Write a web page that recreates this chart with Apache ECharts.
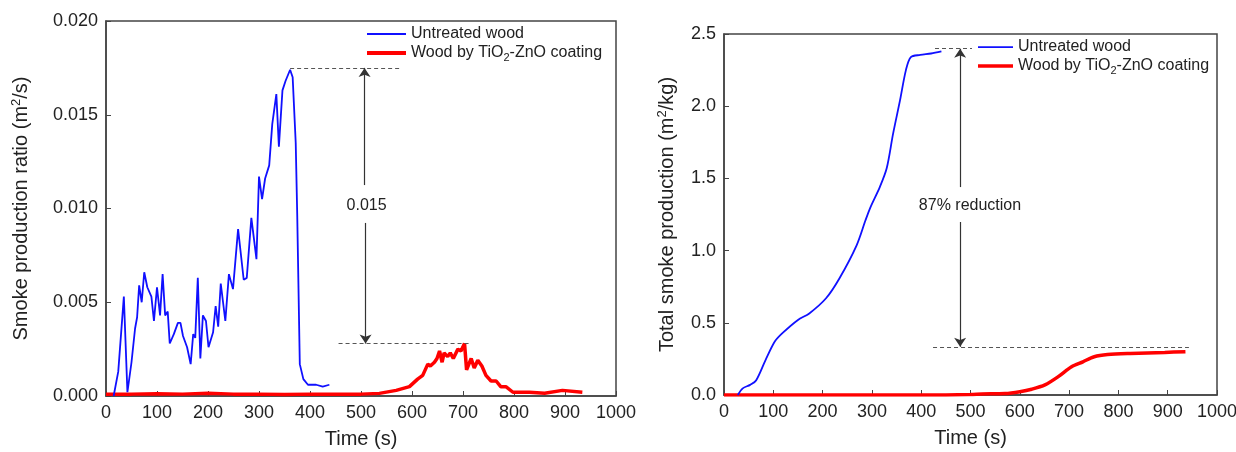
<!DOCTYPE html>
<html>
<head>
<meta charset="utf-8">
<script src="https://cdn.jsdelivr.net/npm/echarts/dist/echarts.min.js"></script>
<style>
  html, body { margin: 0; padding: 0; background: #fff; }
  #main { width: 1236px; height: 452px; }
</style>
</head>
<body>
<div id="main"></div>
<script>
// 数据：近似值
var xTicks = [0, 100, 200, 300, 400, 500, 600, 700, 800, 900, 1000];

// 左图：烟生成速率 (m2/s)
var blueRateT = [15, 24, 35, 42, 50, 57, 61, 65, 70, 75, 81, 89, 94, 100, 106, 111, 116, 121, 125, 133,
  141, 146, 151, 159, 166, 171, 175, 180, 185, 190, 196, 201, 210, 215, 220, 225, 234, 241, 249, 259,
  270, 276, 285, 295, 300, 306, 312, 320, 326, 329, 334, 339, 346, 352, 361, 366, 372, 375, 380, 387,
  396, 412, 425, 438];
var blueRateV = [0, 0.0013, 0.0053, 0.0002, 0.0018, 0.0036, 0.0042, 0.0059, 0.0050, 0.0066, 0.0058, 0.0053, 0.0040, 0.0058, 0.0043, 0.0065, 0.0043, 0.0045, 0.0028, 0.0033,
  0.0039, 0.0039, 0.0032, 0.0026, 0.0017, 0.0033, 0.0031, 0.0063, 0.0020, 0.0043, 0.0040, 0.0026, 0.0034, 0.0048, 0.0037, 0.0060, 0.0040, 0.0065, 0.0057, 0.0089,
  0.0062, 0.0063, 0.0095, 0.0073, 0.0117, 0.0105, 0.0116, 0.0123, 0.0145, 0.0144, 0.0161, 0.0133, 0.0163, 0.0168, 0.0174, 0.0170, 0.0135, 0.0096, 0.0017, 0.0009,
  0.0006, 0.0006, 0.0005, 0.0006];

var redRateT = [0, 50, 100, 150, 200, 250, 300, 350, 400, 450, 500, 536, 569, 595, 611, 621, 631, 636, 644, 649, 654,
  659, 663, 670, 675, 681, 690, 696, 703, 707, 716, 722, 729, 737, 745, 755, 765, 774, 784, 798, 830, 860, 895, 934];
var redRateV = [0.0001, 0.0001, 0.00012, 0.0001, 0.00015, 0.0001, 0.0001, 0.00008, 0.0001, 0.0001, 0.0001, 0.00014, 0.0003, 0.0005, 0.0009, 0.0011, 0.0017, 0.0016, 0.0018, 0.0020, 0.0024,
  0.0018, 0.0023, 0.0021, 0.0023, 0.0020, 0.0025, 0.0024, 0.0028, 0.0014, 0.0020, 0.0015, 0.0019, 0.0016, 0.0011, 0.0008, 0.0008, 0.0005, 0.0005, 0.0002, 0.0002, 0.00015, 0.0003, 0.0002];

// 右图：总烟生成量 (m2/kg)
var blueTotalT = [28, 38, 53, 65, 84, 103, 119, 150, 173, 207, 234, 269, 287, 297, 316, 330, 343, 357, 369, 379, 398, 420, 441];
var blueTotalV = [0, 0.046, 0.07, 0.10, 0.24, 0.37, 0.43, 0.52, 0.565, 0.67, 0.807, 1.037, 1.21, 1.30, 1.44, 1.57, 1.81, 2.04, 2.25, 2.34, 2.355, 2.365, 2.38];

var redTotalT = [0, 100, 200, 300, 400, 500, 523, 570, 600, 624, 651, 678, 705, 728, 751, 778, 824, 894, 936];
var redTotalV = [0, 0, 0, 0, 0, 0.003, 0.007, 0.01, 0.023, 0.04, 0.07, 0.127, 0.196, 0.23, 0.265, 0.28, 0.288, 0.295, 0.30];

var nameBlue = 'Untreated wood';
var nameRed = 'Wood by TiO2-ZnO coating';

function pairs(t, v) {
  return t.map(function (x, i) { return [x, v[i]]; });
}

var FONT = '"Liberation Sans", Arial, sans-serif';
var AXIS_COLOR = '#444';

function xAxisCfg(gridIndex) {
  return {
    type: 'value', gridIndex: gridIndex, min: xTicks[0], max: xTicks[xTicks.length - 1], interval: 100,
    name: 'Time (s)', nameLocation: 'middle', nameGap: 33,
    nameTextStyle: { fontSize: 20, fontFamily: FONT, color: '#222' },
    axisLine: { show: true, lineStyle: { color: AXIS_COLOR, width: 1.5 } },
    axisTick: { show: true, inside: true, length: 5, lineStyle: { color: AXIS_COLOR } },
    axisLabel: { fontSize: 18, fontFamily: FONT, color: '#222', margin: 8, formatter: function (v) { return String(v); } },
    splitLine: { show: false }
  };
}

function yAxisCfg(gridIndex, max, interval, digits, name, gap) {
  return {
    type: 'value', gridIndex: gridIndex, min: 0, max: max, interval: interval,
    name: name, nameLocation: 'middle', nameGap: gap, nameRotate: 90,
    nameTextStyle: {
      fontSize: 20, fontFamily: FONT, color: '#222',
      rich: { sup: { fontSize: 13, fontFamily: FONT, color: '#222', padding: [0, 0, 9, 0] } }
    },
    axisLine: { show: true, lineStyle: { color: AXIS_COLOR, width: 1.5 } },
    axisTick: { show: true, inside: true, length: 5, lineStyle: { color: AXIS_COLOR } },
    axisLabel: {
      fontSize: 18, fontFamily: FONT, color: '#222', margin: 8,
      formatter: function (v) { return v.toFixed(digits); }
    },
    splitLine: { show: false }
  };
}

function legendCfg(left, top, itemWidth) {
  return {
    orient: 'vertical', left: left, top: top, itemWidth: itemWidth, itemHeight: 14, itemGap: 3,
    symbolKeepAspect: true,
    data: [
      { name: nameBlue, icon: 'path://M0,0L40,0L40,2L0,2Z' },
      { name: nameRed, icon: 'path://M0,0L40,0L40,4L0,4Z' }
    ],
    textStyle: {
      fontSize: 16, fontFamily: FONT, color: '#222',
      rich: { sub: { fontSize: 11, fontFamily: FONT, color: '#222', padding: [10, 0, 0, 0] } }
    },
    formatter: function (n) { return n === nameRed ? 'Wood by TiO{sub|2}-ZnO coating' : n; }
  };
}

var dashStyle = { color: '#555', width: 1.2, type: [4, 3] };
var arrowStyle = { color: '#333', width: 1.2, type: 'solid' };

function seg(a, b, style, sym) {
  return [
    { coord: a, symbol: sym[0], lineStyle: style },
    { coord: b, symbol: sym[1] }
  ];
}

var chart = echarts.init(document.getElementById('main'));
chart.setOption({
  animation: false,
  backgroundColor: '#fff',
  grid: [
    { left: 106, right: 620, top: 21, bottom: 56, show: true, borderColor: AXIS_COLOR, borderWidth: 1.5, outerBoundsMode: 'none' },
    { left: 724, right: 19, top: 34, bottom: 57, show: true, borderColor: AXIS_COLOR, borderWidth: 1.5, outerBoundsMode: 'none' }
  ],
  legend: [legendCfg(362, 21, 39), legendCfg(973, 34, 35)],
  xAxis: [xAxisCfg(0), xAxisCfg(1)],
  yAxis: [
    yAxisCfg(0, 0.02, 0.005, 3, 'Smoke production ratio (m{sup|2}/s)', 74),
    yAxisCfg(1, 2.5, 0.5, 1, 'Total smoke production (m{sup|2}/kg)', 46)
  ],
  series: [
    {
      name: nameBlue, type: 'line', xAxisIndex: 0, yAxisIndex: 0, symbol: 'none',
      lineStyle: { color: '#1010ff', width: 1.8 }, itemStyle: { color: '#1010ff' },
      data: pairs(blueRateT, blueRateV), z: 3
    },
    {
      name: nameRed, type: 'line', xAxisIndex: 0, yAxisIndex: 0, symbol: 'none',
      lineStyle: { color: '#ff0000', width: 3.5 }, itemStyle: { color: '#ff0000' },
      data: pairs(redRateT, redRateV), z: 2,
      markLine: {
        silent: true, symbolSize: 9, label: { show: false },
        data: [
          seg([361, 0.0175], [580, 0.0175], dashStyle, ['none', 'none']),
          seg([456, 0.0028], [716, 0.0028], dashStyle, ['none', 'none']),
          seg([507, 0.01125], [507, 0.0175], arrowStyle, ['none', 'arrow']),
          seg([509, 0.00923], [509, 0.0028], arrowStyle, ['none', 'arrow'])
        ]
      },
      markPoint: {
        silent: true, symbol: 'circle', symbolSize: 0,
        label: { show: true, position: 'inside', fontSize: 16, fontFamily: FONT, color: '#222', formatter: '0.015' },
        data: [{ coord: [511, 0.01015] }]
      }
    },
    {
      name: nameBlue, type: 'line', xAxisIndex: 1, yAxisIndex: 1, symbol: 'none', smooth: 0.3,
      lineStyle: { color: '#1010ff', width: 1.8 }, itemStyle: { color: '#1010ff' },
      data: pairs(blueTotalT, blueTotalV), z: 3
    },
    {
      name: nameRed, type: 'line', xAxisIndex: 1, yAxisIndex: 1, symbol: 'none', smooth: 0.3,
      lineStyle: { color: '#ff0000', width: 3.5 }, itemStyle: { color: '#ff0000' },
      data: pairs(redTotalT, redTotalV), z: 2,
      markLine: {
        silent: true, symbolSize: 9, label: { show: false },
        data: [
          seg([428, 2.398], [503, 2.398], dashStyle, ['none', 'none']),
          seg([424, 0.334], [943, 0.334], dashStyle, ['none', 'none']),
          seg([479, 1.44], [479, 2.398], arrowStyle, ['none', 'arrow']),
          seg([479, 1.198], [479, 0.334], arrowStyle, ['none', 'arrow'])
        ]
      },
      markPoint: {
        silent: true, symbol: 'circle', symbolSize: 0,
        label: { show: true, position: 'inside', fontSize: 16, fontFamily: FONT, color: '#222', formatter: '87% reduction' },
        data: [{ coord: [499, 1.314] }]
      }
    }
  ]
});
</script>
</body>
</html>
